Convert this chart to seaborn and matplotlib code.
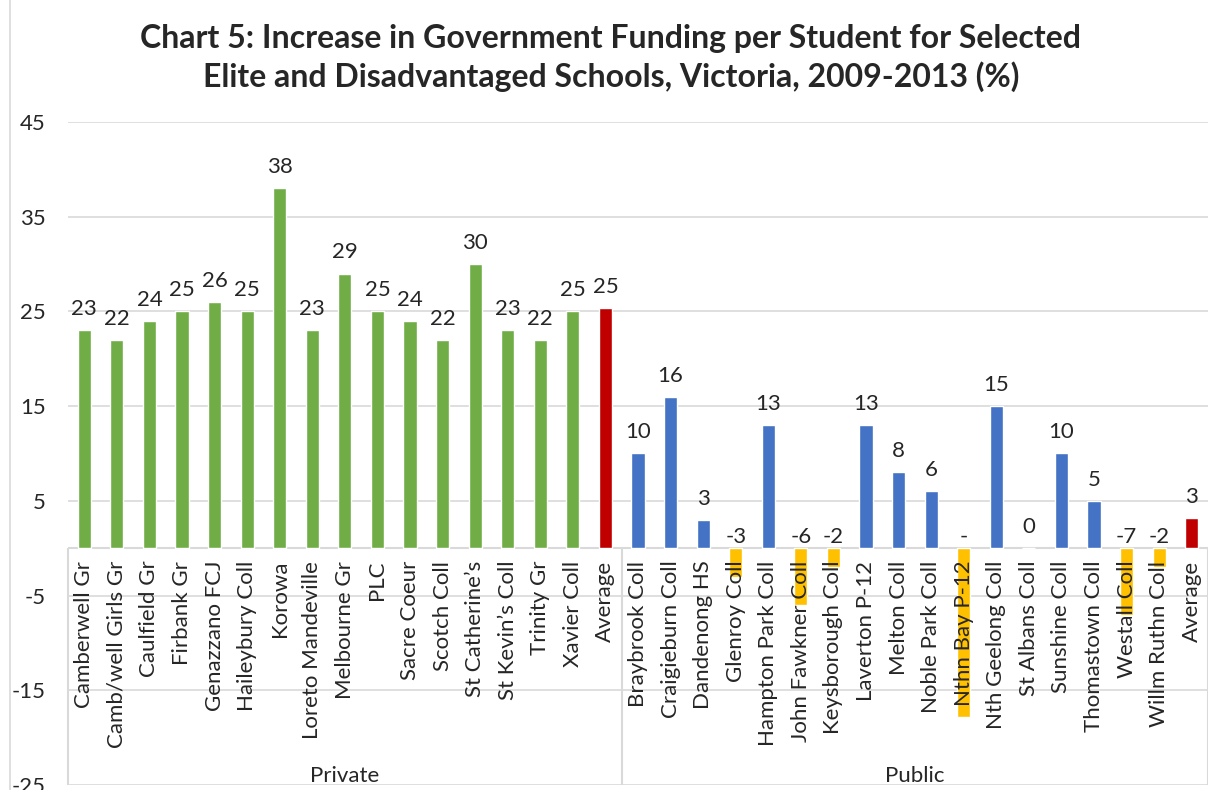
import matplotlib
matplotlib.use("Agg")
import matplotlib.pyplot as plt
import seaborn as sns
import pandas as pd
from matplotlib.lines import Line2D

private_schools = ["Camberwell Gr", "Camb/well Girls Gr", "Caulfield Gr", "Firbank Gr",
                   "Genazzano FCJ", "Haileybury Coll", "Korowa", "Loreto Mandeville",
                   "Melbourne Gr", "PLC", "Sacre Coeur", "Scotch Coll", "St Catherine\u2019s",
                   "St Kevin\u2019s Coll", "Trinity Gr", "Xavier Coll", "Average"]
private_values = [23, 22, 24, 25, 26, 25, 38, 23, 29, 25, 24, 22, 30, 23, 22, 25, 25.4]
private_labels = ["23", "22", "24", "25", "26", "25", "38", "23", "29", "25", "24", "22",
                  "30", "23", "22", "25", "25"]

public_schools = ["Braybrook Coll", "Craigieburn Coll", "Dandenong HS", "Glenroy Coll",
                  "Hampton Park Coll", "John Fawkner Coll", "Keysborough Coll", "Laverton P-12",
                  "Melton Coll", "Noble Park Coll", "Nthn Bay P-12", "Nth Geelong Coll",
                  "St Albans Coll", "Sunshine Coll", "Thomastown Coll", "Westall Coll",
                  "Willm Ruthn Coll", "Average"]
public_values = [10, 16, 3, -3, 13, -6, -2, 13, 8, 6, -17.8, 15, 0, 10, 5, -7, -2, 3.2]
public_labels = ["10", "16", "3", "-3", "13", "-6", "-2", "13", "8", "6", "-", "15", "0",
                 "10", "5", "-7", "-2", "3"]

groups = ["Private", "Public"]
y_ticks = [-25, -15, -5, 5, 15, 25, 35, 45]

title = ("Chart 5: Increase in Government Funding per Student for Selected\n"
         "Elite and Disadvantaged Schools, Victoria, 2009-2013 (%)")

# build table
names = private_schools + public_schools
values = private_values + public_values
labels = private_labels + public_labels
grp = [groups[0]] * len(private_schools) + [groups[1]] * len(public_schools)
kinds = []
for n, v, g in zip(names, values, grp):
    if n == "Average":
        kinds.append("avg")
    elif g == "Private":
        kinds.append("priv")
    elif v < 0:
        kinds.append("neg")
    else:
        kinds.append("pub")
df = pd.DataFrame({"key": [f"{g}|{n}" for g, n in zip(grp, names)],
                   "name": names, "value": values, "label": labels,
                   "group": grp, "kind": kinds})

palette = {"priv": "#70AD47", "pub": "#4472C4", "avg": "#C00000", "neg": "#FFC000"}

sns.set_style("white")
plt.rcParams["font.family"] = ["Lato", "DejaVu Sans"]

FS = 16

fig = plt.figure(figsize=(12.08, 7.9), dpi=100)
ax = fig.add_axes([68 / 1208, 1 - 785 / 790, 1 - 68 / 1208, (785 - 122) / 790])

sns.barplot(data=df, x="key", y="value", hue="kind", palette=palette, dodge=False,
            order=list(df["key"]), width=0.4, legend=False, ax=ax, saturation=1)

ax.set_ylim(-25, 45)
ax.set_xlim(-0.5, len(df) - 0.5)
ax.set_yticks(y_ticks)
ax.set_yticklabels([str(t) for t in y_ticks], fontsize=FS)
ax.tick_params(axis="y", length=0, pad=16)
ax.set_xticks([])
ax.set_xlabel("")
ax.set_ylabel("")
for s in ax.spines.values():
    s.set_visible(False)

grid_c = "#D9D9D9"
for t in y_ticks:
    ax.axhline(t, color=grid_c, lw=1.2, zorder=0)
ax.axhline(0, color=grid_c, lw=1.5, zorder=0)

# group separators
n_priv = len(private_schools)
ax.vlines([-0.5, n_priv - 0.5, len(df) - 0.5], -25, 0, colors=grid_c, lw=1.5, zorder=0,
          clip_on=False)

# data labels
for i, (v, lab) in enumerate(zip(df["value"], df["label"])):
    if v >= 0:
        ax.annotate(lab, (i, v), xytext=(0, 8), textcoords="offset points",
                    ha="center", va="bottom", fontsize=FS)
    else:
        ax.annotate(lab, (i, 0), xytext=(0, 1), textcoords="offset points",
                    ha="center", va="bottom", fontsize=FS)

# category labels
for i, n in enumerate(df["name"]):
    ax.annotate(n, (i, 0), xytext=(0, -9), textcoords="offset points",
                ha="center", va="top", rotation=90, fontsize=FS, zorder=5)

# group labels
ax.text((n_priv - 1) / 2, -24.0, groups[0], ha="center", va="center", fontsize=FS)
ax.text(n_priv + (len(public_schools) - 1) / 2, -24.0, groups[1], ha="center",
        va="center", fontsize=FS)

fig.add_artist(Line2D([10 / 1208, 10 / 1208], [0, 1], color=grid_c, lw=1.2))
fig.text(611 / 1208, 1 - 58 / 790, title, ha="center", va="center", fontsize=23,
         fontweight="bold", linespacing=1.3)

fig.savefig("out.png", dpi=100)
